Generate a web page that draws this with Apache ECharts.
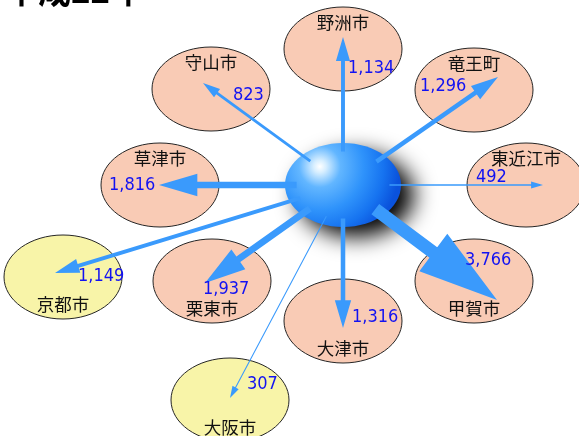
<!DOCTYPE html>
<html><head><meta charset="utf-8">
<script src="https://cdn.jsdelivr.net/npm/echarts@6/dist/echarts.min.js"></script>
<style>html,body{margin:0;padding:0;background:#fff}#c{width:579px;height:436px}</style>
</head><body><div id="c"></div>
<script>
// ---- data ----
const title = '平成22年';
const cities = ['野洲市','竜王町','東近江市','甲賀市','大津市','大阪市','栗東市','京都市','草津市','守山市'];
const flows  = [1134, 1296, 492, 3766, 1316, 307, 1937, 1149, 1816, 823];
const outsidePref = [false,false,false,false,false,true,false,true,false,false];

// ---- diagram layout (diagram coordinate space, mapped by hidden value axes) ----
const hub = [343, 185];
const nodeX = [343, 474, 526, 474, 343, 230, 212, 63, 160, 211];
const nodeY = [ 49,  90, 185, 281, 321, 400, 281, 277, 185,  89];
const tipX  = [343, 498, 543, 497, 343, 230, 205, 55, 159, 203];
const tipY  = [ 37,  77, 185, 300, 328, 398, 283, 273, 185,  83];
const valX  = [348, 420, 476, 465, 352, 247, 203, 78, 109, 233];
const valY  = [ 68,  86, 177, 260, 317, 384, 289, 276, 185,  95];

const chart = echarts.init(document.getElementById('c'));
const NODE_R = [59, 42];
const HUB_R = [58, 42];
const cjk = '"Noto Sans CJK JP", "Noto Sans CJK SC", sans-serif';
const numFont = '"Liberation Sans Narrow", "DejaVu Sans Condensed", sans-serif';

function fmt(v){ return v.toLocaleString('en-US'); }

const nodeData = cities.map((c,i)=>[nodeX[i], nodeY[i], i]);
const arrowData = cities.map((c,i)=>[tipX[i], tipY[i], flows[i]]);
const valData = cities.map((c,i)=>[valX[i], valY[i], flows[i]]);

const option = {
  animation: false,
  backgroundColor: '#fff',
  grid: {left:0, right:0, top:0, bottom:0},
  xAxis: {type:'value', min:0, max:579, show:false},
  yAxis: {type:'value', min:0, max:436, inverse:true, show:false},
  graphic: [{
    type:'text', left:5, top:-26, z:100,
    style:{text:title, font:'bold 33px ' + cjk, fill:'#000'}
  }],
  series: [
    { // city ellipses
      type:'custom', z:1, clip:false,
      encode:{x:0, y:1},
      data: nodeData,
      renderItem(params, api){
        const p = api.coord([api.value(0), api.value(1)]);
        const s = api.size(NODE_R);
        const i = api.value(2);
        return {type:'ellipse', shape:{cx:p[0], cy:p[1], rx:s[0], ry:s[1]},
          style:{fill: outsidePref[i] ? '#f8f4a8' : '#f9cbb5', stroke:'#262626', lineWidth:1}};
      }
    },
    { // hub sphere
      type:'custom', z:2, clip:false,
      encode:{x:0, y:1},
      data: [hub],
      renderItem(params, api){
        const p = api.coord([api.value(0), api.value(1)]);
        const s = api.size(HUB_R);
        return {type:'ellipse', shape:{cx:p[0], cy:p[1], rx:s[0], ry:s[1]},
          style:{
            fill: new echarts.graphic.RadialGradient(0.3, 0.28, 0.95, [
              {offset:0, color:'#ffffff'},
              {offset:0.08, color:'#d6eeff'},
              {offset:0.26, color:'#62b6ff'},
              {offset:0.55, color:'#2f93fb'},
              {offset:0.8, color:'#1673f0'},
              {offset:1, color:'#0a52dc'}
            ]),
            shadowColor:'rgba(0,0,0,1)', shadowBlur:22, shadowOffsetX:13, shadowOffsetY:10
          }};
      }
    },
    { // flow arrows
      type:'custom', z:3, clip:false,
      encode:{x:0, y:1},
      data: arrowData,
      renderItem(params, api){
        const c = api.coord(hub);
        const t = api.coord([api.value(0), api.value(1)]);
        const v = api.value(2);
        const hr = api.size(HUB_R);
        let dx = t[0]-c[0], dy = t[1]-c[1];
        const len = Math.hypot(dx, dy);
        const ux = dx/len, uy = dy/len;
        const k = 0.8 / Math.sqrt((ux/hr[0])**2 + (uy/hr[1])**2);
        const S = [c[0]+ux*k, c[1]+uy*k];
        const w = v/290;
        const hw = Math.max(7, w*3.6);
        const hl = Math.max(11, hw*1.7);
        const nx = -uy, ny = ux;
        const B = [t[0]-ux*hl, t[1]-uy*hl];
        const pts = [
          [S[0]+nx*w/2, S[1]+ny*w/2],
          [B[0]+nx*w/2, B[1]+ny*w/2],
          [B[0]+nx*hw/2, B[1]+ny*hw/2],
          [t[0], t[1]],
          [B[0]-nx*hw/2, B[1]-ny*hw/2],
          [B[0]-nx*w/2, B[1]-ny*w/2],
          [S[0]-nx*w/2, S[1]-ny*w/2]
        ];
        return {type:'polygon', shape:{points:pts}, style:{fill:'#3a9afc'}};
      }
    },
    { // flow values
      type:'custom', z:4, clip:false,
      encode:{x:0, y:1},
      data: valData,
      renderItem(params, api){
        const p = api.coord([api.value(0), api.value(1)]);
        return {type:'text', x:p[0], y:p[1],
          style:{text: fmt(api.value(2)), font:'18px ' + numFont, fill:'#1212f2',
            align:'left', verticalAlign:'middle'}};
      }
    },
    { // city names
      type:'custom', z:5, clip:false,
      encode:{x:0, y:1},
      data: nodeData,
      renderItem(params, api){
        const i = api.value(2);
        const below = api.value(1) > hub[1] + 40;
        const p = api.coord([api.value(0), api.value(1) + (below ? 27 : -27)]);
        return {type:'text', x:p[0], y:p[1],
          style:{text: cities[i], font:'17.5px ' + cjk, fill:'#111',
            align:'center', verticalAlign:'middle'}};
      }
    }
  ]
};
chart.setOption(option);
</script>
</body></html>
